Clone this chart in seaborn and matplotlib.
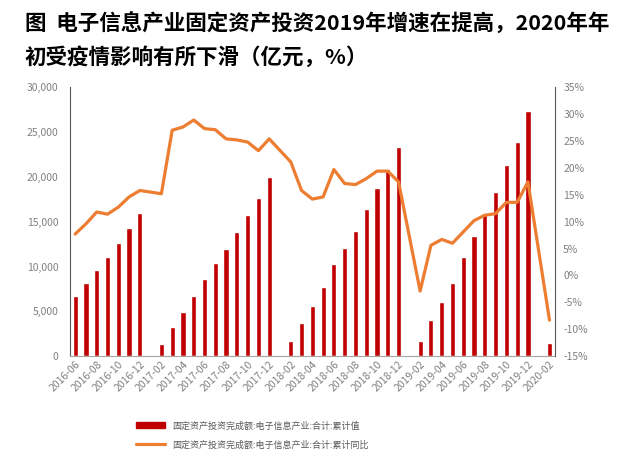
import numpy as np
import pandas as pd
import matplotlib
matplotlib.use("Agg")
import matplotlib.pyplot as plt
import seaborn as sns
from matplotlib.patches import Patch
from matplotlib.lines import Line2D

# 月份 2016-06 .. 2020-02，每年1月无数据
months = pd.period_range("2016-06", "2020-02", freq="M").strftime("%Y-%m").tolist()

cum_value = [6700, 8200, 9600, 11100, 12600, 14300, 16000,
             np.nan, 1400, 3300, 4900, 6700, 8600, 10400, 12000, 13900, 15700, 17600, 20000,
             np.nan, 1700, 3750, 5570, 7700, 10250, 12100, 14000, 16400, 18800, 20900, 23300,
             np.nan, 1700, 4000, 6000, 8200, 11100, 13400, 15700, 18300, 21350, 23900, 27300,
             np.nan, 1500]

cum_yoy = [7.7, 9.6, 11.8, 11.4, 12.7, 14.6, 15.8,
           np.nan, 15.2, 27.0, 27.6, 28.9, 27.3, 27.1, 25.4, 25.2, 24.8, 23.2, 25.4,
           np.nan, 21.1, 15.8, 14.2, 14.6, 19.7, 17.1, 16.9, 18.0, 19.4, 19.4, 17.4,
           np.nan, -2.9, 5.6, 6.7, 6.0, 8.1, 10.2, 11.2, 11.5, 13.6, 13.6, 17.4,
           np.nan, -8.3]

label_bar = "固定资产投资完成额:电子信息产业:合计:累计值"
label_line = "固定资产投资完成额:电子信息产业:合计:累计同比"

df = pd.DataFrame({"month": months, "value": cum_value, "yoy": cum_yoy})
df["pos"] = np.arange(len(df))

sns.set_style("white")
plt.rcParams["font.family"] = ["Noto Sans CJK SC", "DejaVu Sans"]

bar_color = "#C00000"
line_color = "#ED7D31"
grey = "#808080"

fig = plt.figure(figsize=(6.4, 4.59), dpi=100)
ax = fig.add_axes([0.109, 0.224, 0.758, 0.586])

sns.barplot(data=df, x="month", y="value", order=months, color=bar_color,
            width=0.48, ax=ax, saturation=1)
ax.set_xlim(-0.5, len(months) - 0.5)
ax.set_ylim(0, 30000)
ax.set_yticks(np.arange(0, 30001, 5000))
ax.set_yticklabels([f"{v:,}" for v in range(0, 30001, 5000)])
ax.set_xticks(np.arange(0, len(months), 2))
ax.set_xticklabels(months[::2], rotation=45, ha="right", rotation_mode="anchor")
ax.set_xlabel("")
ax.set_ylabel("")

ax2 = ax.twinx()
line_df = df.dropna(subset=["yoy"])
sns.lineplot(data=line_df, x="pos", y="yoy", color=line_color, linewidth=2.3, ax=ax2)
ax2.set_ylim(-15, 35)
ax2.set_yticks(np.arange(-15, 36, 5))
ax2.set_yticklabels([f"{v}%" for v in range(-15, 36, 5)])
ax2.set_ylabel("")
ax2.set_xlabel("")
ax2.set_xlim(-0.5, len(months) - 0.5)

for a in (ax, ax2):
    for s in a.spines.values():
        s.set_visible(False)
    a.tick_params(colors=grey, labelsize=7.5, length=0)
ax.spines["left"].set_visible(True)
ax.spines["left"].set_color("#595959")
ax.spines["bottom"].set_visible(True)
ax.spines["bottom"].set_color("#A6A6A6")
ax2.spines["right"].set_visible(True)
ax2.spines["right"].set_color("#595959")
ax.tick_params(axis="x", labelsize=7.5, pad=2)
ax.tick_params(axis="y", pad=8)
ax2.tick_params(axis="y", pad=6)

fig.text(0.039, 0.932, "图  电子信息产业固定资产投资2019年增速在提高，2020年年",
         fontsize=15.5, fontweight="bold", color="black", va="baseline")
fig.text(0.039, 0.861, "初受疫情影响有所下滑（亿元，%）",
         fontsize=15.5, fontweight="bold", color="black", va="baseline")

handles = [Patch(facecolor=bar_color, edgecolor=bar_color),
           Line2D([0], [0], color=line_color, linewidth=2.3)]
fig.legend(handles, [label_bar, label_line], loc="upper left",
           bbox_to_anchor=(0.2, 0.1), frameon=False, fontsize=6.5,
           labelcolor="#595959", handlelength=3.2, labelspacing=1.1)

fig.savefig("out.png", dpi=100)
